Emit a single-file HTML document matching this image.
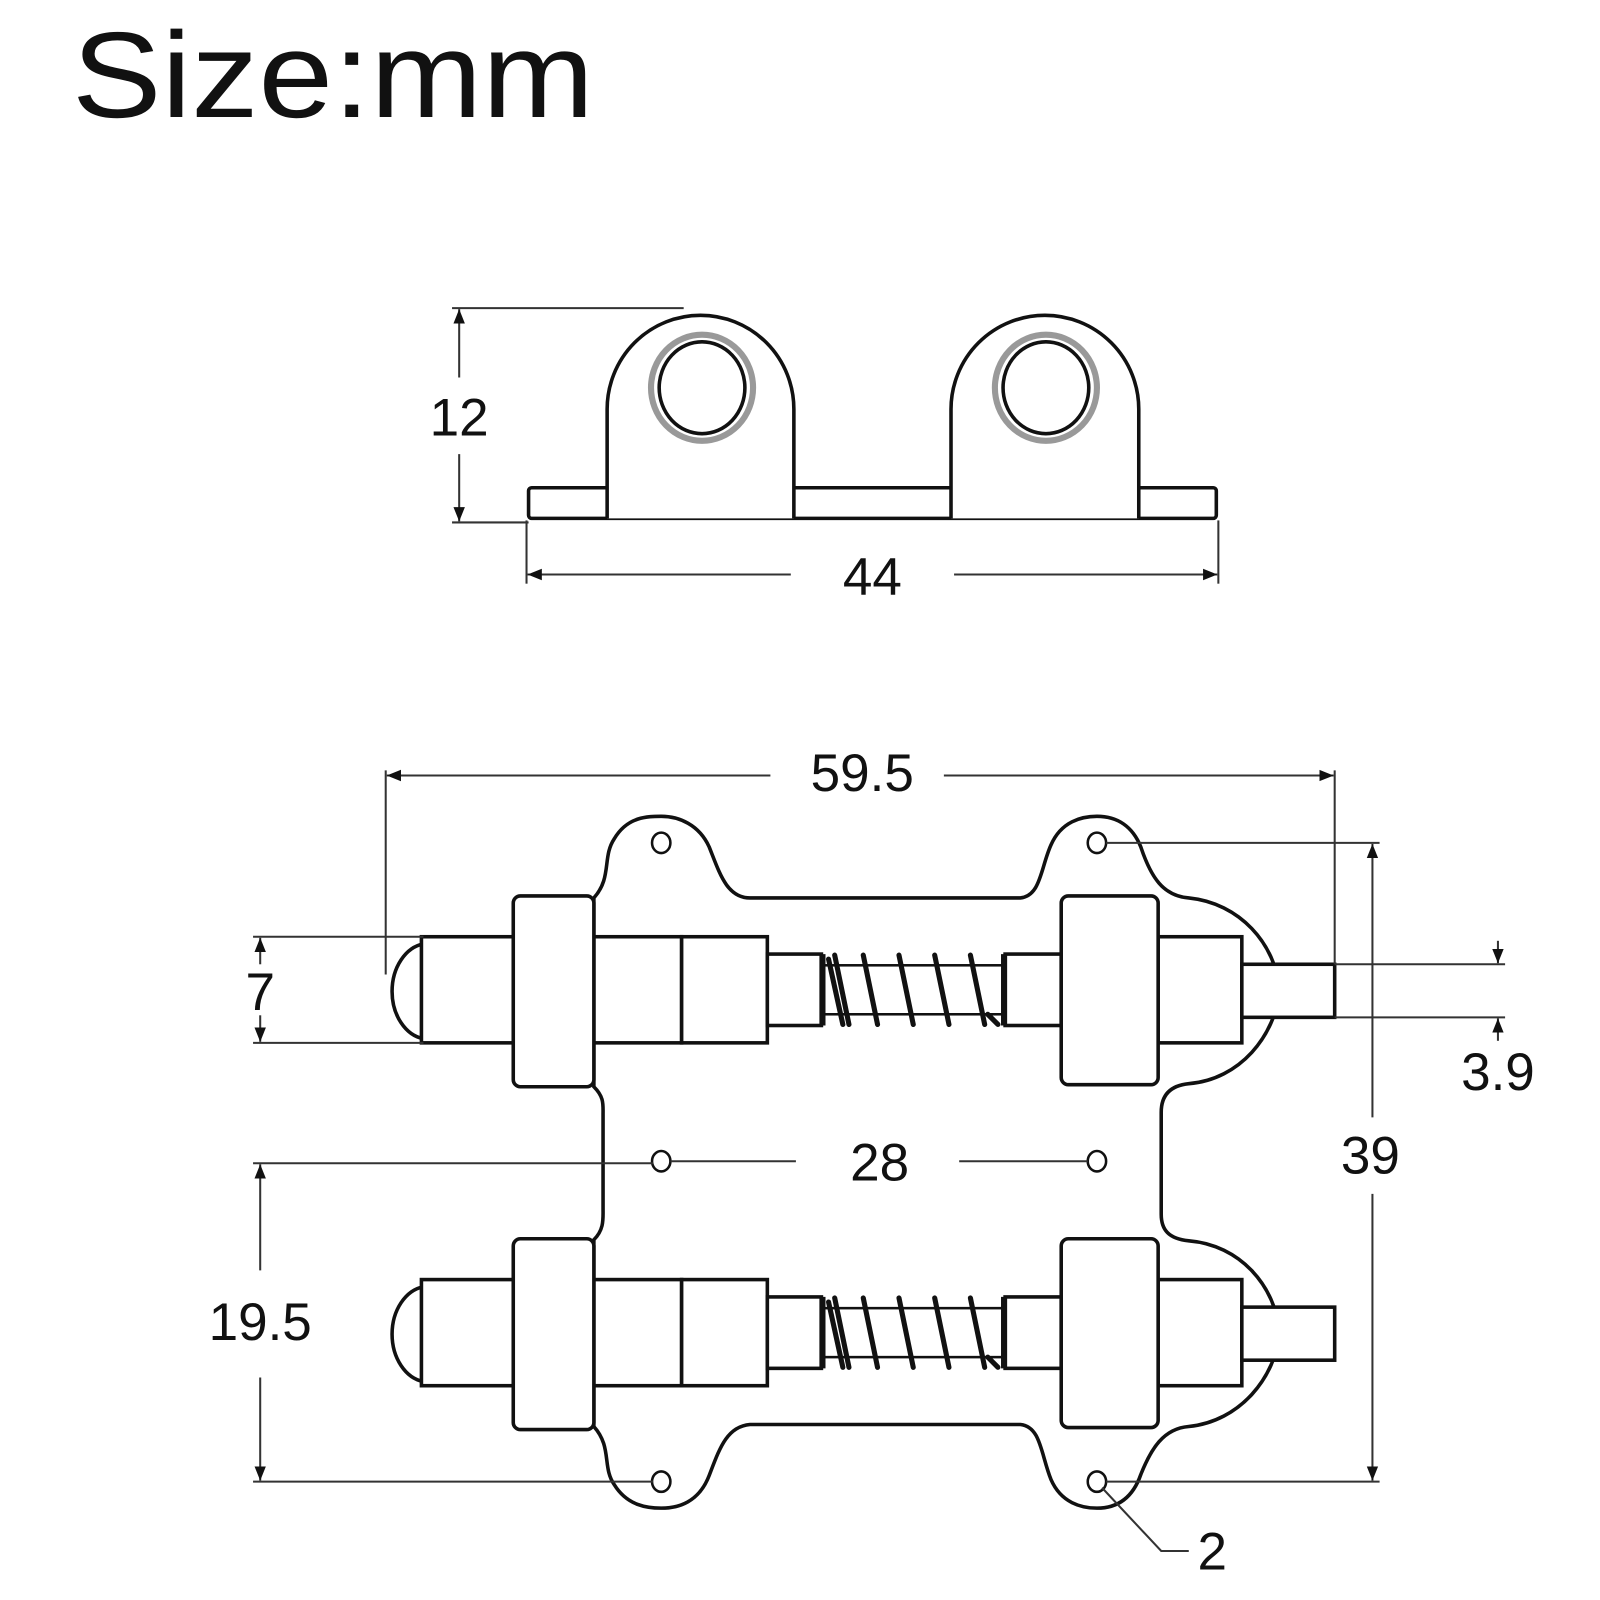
<!DOCTYPE html>
<html><head><meta charset="utf-8"><style>
html,body{margin:0;padding:0;background:#fff;width:1600px;height:1600px;overflow:hidden}
svg{display:block}
text{font-family:"Liberation Sans",sans-serif;fill:#111}
</style></head><body>
<svg width="1600" height="1600" viewBox="0 0 1600 1600" xmlns="http://www.w3.org/2000/svg">
<defs>
<marker id="a" viewBox="0 0 10 10" refX="10" refY="5" markerWidth="7" markerHeight="7" orient="auto-start-reverse"><path d="M0,1 L10,5 L0,9 z" fill="#111"/></marker>
<g id="asm" fill="#fff" stroke="#111" stroke-width="3.5">
  <path d="M415,925 A36,47 0 0 0 415,1018 Z"/>
  <rect x="413" y="918" width="92" height="104"/>
  <rect x="582" y="918" width="86" height="104"/>
  <rect x="668" y="918" width="84" height="104"/>
  <rect x="752" y="935" width="53" height="70"/>
  <rect x="985" y="935" width="55" height="70"/>
  <rect x="503" y="878" width="79" height="187" rx="7"/>
  <rect x="1135" y="918" width="82" height="104"/>
  <rect x="1217" y="945" width="91" height="52"/>
  <rect x="1040" y="878" width="95" height="185" rx="7"/>
  <rect x="806" y="946" width="178" height="48" stroke-width="2.5"/>
  <line x1="806" y1="935" x2="806" y2="1005" stroke-width="6"/>
  <line x1="984" y1="935" x2="984" y2="1005" stroke-width="6"/>
  <g fill="none" stroke-width="5" stroke-linecap="round" stroke-linejoin="round">
    <path d="M812,940 L826,1004 M818,936 L832,1004"/>
    <path d="M846,936 L860,1004"/>
    <path d="M881,936 L895,1004"/>
    <path d="M916,936 L930,1004"/>
    <path d="M951,936 L965,1004"/>
    <path d="M968,994 L978,1004"/>
  </g>
</g>
</defs>
<text x="72" y="117" font-size="122" textLength="522" lengthAdjust="spacingAndGlyphs">Size:mm</text>
<g transform="scale(1.0204)">
<g fill="#fff" stroke="#111" stroke-width="3.5">
  <rect x="518" y="478" width="674" height="30" rx="3"/>
  <path d="M595,508 L595,401 A91.5,92 0 0 1 778,401 L778,508"/>
  <path d="M932,508 L932,401 A92,92 0 0 1 1116,401 L1116,508"/>
</g>
<g fill="none">
  <ellipse cx="688" cy="380" rx="50" ry="52" stroke="#999" stroke-width="6"/>
  <ellipse cx="688" cy="380" rx="42" ry="45" stroke="#111" stroke-width="3.5"/>
  <ellipse cx="1025" cy="380" rx="50" ry="52" stroke="#999" stroke-width="6"/>
  <ellipse cx="1025" cy="380" rx="42" ry="45" stroke="#111" stroke-width="3.5"/>
</g>
<g stroke="#333" stroke-width="2" fill="none">
  <line x1="443" y1="302" x2="670" y2="302"/>
  <line x1="443" y1="512" x2="518" y2="512"/>
  <line x1="450" y1="370" x2="450" y2="303" marker-end="url(#a)"/>
  <line x1="450" y1="445" x2="450" y2="511" marker-end="url(#a)"/>
  <line x1="516" y1="510" x2="516" y2="572"/>
  <line x1="1194" y1="510" x2="1194" y2="572"/>
  <line x1="775" y1="563" x2="517" y2="563" marker-end="url(#a)"/>
  <line x1="935" y1="563" x2="1193" y2="563" marker-end="url(#a)"/>
</g>
<text x="450" y="427" font-size="52" text-anchor="middle">12</text>
<text x="855" y="583" font-size="52" text-anchor="middle">44</text>

<path fill="#fff" stroke="#111" stroke-width="3.5" d="M582,880 C600,860 590,840 602,822 C615,800 635,800 648,800 C665,800 685,808 695,830 C705,855 712,880 735,880 L1000,880 C1020,878 1020,850 1030,828 C1040,805 1060,800 1075,800 C1095,800 1110,810 1118,830 C1128,860 1140,878 1165,880 C1215,885 1250,925 1254,970 C1250,1015 1215,1058 1165,1062 C1145,1064 1138,1075 1138,1090 L1138,1190 C1138,1205 1145,1214 1165,1216 C1215,1220 1250,1260 1254,1306 C1250,1350 1215,1393 1165,1398 C1140,1400 1128,1420 1118,1445 C1110,1468 1095,1478 1075,1478 C1060,1478 1040,1473 1030,1450 C1020,1425 1020,1398 1000,1396 L735,1396 C712,1398 705,1420 695,1446 C685,1472 665,1478 648,1478 C635,1478 615,1476 602,1455 C590,1438 600,1418 582,1398 L582,1215 C592,1205 591,1195 591,1185 L591,1092 C591,1082 592,1075 582,1065 Z"/>
<use href="#asm"/>
<use href="#asm" transform="translate(0,336)"/>
<g fill="#fff" stroke="#111" stroke-width="2.5">
  <ellipse cx="648" cy="826" rx="9" ry="10"/>
  <ellipse cx="1075" cy="826" rx="9" ry="10"/>
  <ellipse cx="648" cy="1138" rx="9" ry="10"/>
  <ellipse cx="1075" cy="1138" rx="9" ry="10"/>
  <ellipse cx="648" cy="1452" rx="9" ry="10"/>
  <ellipse cx="1075" cy="1452" rx="9" ry="10"/>
</g>
<g stroke="#333" stroke-width="2" fill="none">
  <line x1="378" y1="755" x2="378" y2="955"/>
  <line x1="1308" y1="755" x2="1308" y2="945"/>
  <line x1="755" y1="760" x2="379" y2="760" marker-end="url(#a)"/>
  <line x1="925" y1="760" x2="1307" y2="760" marker-end="url(#a)"/>
  <line x1="1084" y1="826" x2="1352" y2="826"/>
  <line x1="1084" y1="1452" x2="1352" y2="1452"/>
  <line x1="1345" y1="1095" x2="1345" y2="827" marker-end="url(#a)"/>
  <line x1="1345" y1="1170" x2="1345" y2="1451" marker-end="url(#a)"/>
  <line x1="1308" y1="945" x2="1475" y2="945"/>
  <line x1="1308" y1="997" x2="1475" y2="997"/>
  <line x1="1468" y1="922" x2="1468" y2="944" marker-end="url(#a)"/>
  <line x1="1468" y1="1020" x2="1468" y2="998" marker-end="url(#a)"/>
  <line x1="248" y1="918" x2="415" y2="918"/>
  <line x1="248" y1="1022" x2="415" y2="1022"/>
  <line x1="255" y1="945" x2="255" y2="919" marker-end="url(#a)"/>
  <line x1="255" y1="995" x2="255" y2="1021" marker-end="url(#a)"/>
  <line x1="248" y1="1140" x2="640" y2="1140"/>
  <line x1="248" y1="1452" x2="640" y2="1452"/>
  <line x1="255" y1="1245" x2="255" y2="1141" marker-end="url(#a)"/>
  <line x1="255" y1="1350" x2="255" y2="1451" marker-end="url(#a)"/>
  <line x1="780" y1="1138" x2="657" y2="1138"/>
  <line x1="940" y1="1138" x2="1066" y2="1138"/>
  <polyline points="1080,1458 1138,1520 1165,1520"/>
</g>
<text x="845" y="775" font-size="52" text-anchor="middle">59.5</text>
<text x="1343" y="1150" font-size="52" text-anchor="middle">39</text>
<text x="1468" y="1068" font-size="52" text-anchor="middle">3.9</text>
<text x="255" y="990" font-size="52" text-anchor="middle">7</text>
<text x="862" y="1157" font-size="52" text-anchor="middle">28</text>
<text x="255" y="1313" font-size="52" text-anchor="middle">19.5</text>
<text x="1188" y="1538" font-size="52" text-anchor="middle">2</text>
</g>
</svg>
</body></html>
